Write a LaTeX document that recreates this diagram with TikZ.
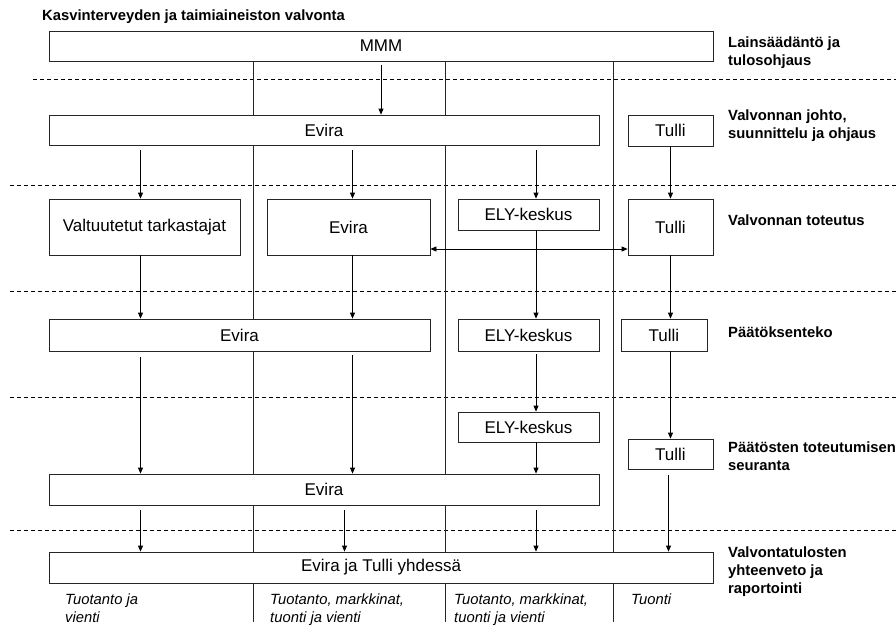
\documentclass[tikz,border=0pt]{standalone}
\usepackage{fontspec}
\setmainfont{Liberation Sans}
\usetikzlibrary{arrows.meta}
\begin{document}
\begin{tikzpicture}[x=1pt,y=-1pt,
  box/.style={draw=black!85, line width=0.8pt, fill=white, inner sep=0pt, font=\fontsize{17}{20}\selectfont},
  arr/.style={-{Triangle[length=6pt,width=5pt]}, line width=0.8pt},
  darr/.style={{Triangle[length=6pt,width=5pt]}-{Triangle[length=6pt,width=5pt]}, line width=0.8pt},
  lane/.style={line width=0.8pt, black!85},
  sep/.style={dash pattern=on 4pt off 3pt, line width=0.7pt},
  lvl/.style={anchor=north west, inner sep=0pt, align=left, font=\bfseries\fontsize{14.8}{18}\selectfont},
  note/.style={anchor=north west, inner sep=0pt, align=left, font=\itshape\fontsize{14.8}{18}\selectfont}]
\useasboundingbox (0,0) rectangle (896,626);

% title
\node[anchor=north west, inner sep=0pt, font=\bfseries\fontsize{14.8}{18}\selectfont] (title) at (42,10) {Kasvinterveyden ja taimiaineiston valvonta};

% dashed level separators
\coordinate (s1a) at (33,79);  \coordinate (s1b) at (896,79);
\coordinate (s2a) at (10,185); \coordinate (s2b) at (896,185);
\coordinate (s3a) at (10,291); \coordinate (s3b) at (896,291);
\coordinate (s4a) at (10,397); \coordinate (s4b) at (896,397);
\coordinate (s5a) at (10,530); \coordinate (s5b) at (896,530);
\foreach \s in {1,...,5} \draw[sep] (s\s a) -- (s\s b);

% lane lines
\coordinate (l1t) at (253,61); \coordinate (l1b) at (253,622);
\coordinate (l2t) at (445,61); \coordinate (l2b) at (445,622);
\coordinate (l3t) at (613,61); \coordinate (l3b) at (613,622);
\foreach \l in {1,2,3} \draw[lane] (l\l t) -- (l\l b);

% boxes
\node[box, minimum width=664pt, minimum height=30pt] (mmm) at (381,46) {MMM};

\node[box, minimum width=550pt, minimum height=30pt] (evira1) at (324,130) {Evira};
\node[box, minimum width=85pt, minimum height=31pt] (tulli1) at (670.5,130.5) {Tulli};

\node[box, minimum width=191pt, minimum height=56pt] (valt) at (144.5,227) {Valtuutetut tarkastajat};
\node[box, minimum width=163pt, minimum height=56pt] (evira2) at (348.5,227) {Evira};
\node[box, minimum width=141pt, minimum height=31pt] (ely1) at (528.5,214.5) {ELY-keskus};
\node[box, minimum width=85pt, minimum height=56pt] (tulli2) at (670.5,227) {Tulli};

\node[box, minimum width=381pt, minimum height=32pt] (evira3) at (239.5,335) {Evira};
\node[box, minimum width=141pt, minimum height=32pt] (ely2) at (528.5,335) {ELY-keskus};
\node[box, minimum width=86pt, minimum height=32pt] (tulli3) at (664,335) {Tulli};

\node[box, minimum width=141pt, minimum height=30pt] (ely3) at (528.5,427) {ELY-keskus};
\node[box, minimum width=85pt, minimum height=30pt] (tulli4) at (670.5,454) {Tulli};

\node[box, minimum width=550pt, minimum height=31pt] (evira4) at (324,489.5) {Evira};

\node[box, minimum width=664pt, minimum height=31pt] (final) at (381,567.5) {Evira ja Tulli yhdessä};

% arrows
\draw[arr, shorten <=4pt] (mmm.south) -- (mmm.south |- evira1.north);

\draw[arr, shorten <=5pt] ([xshift=-4pt]valt.north |- evira1.south) -- ([xshift=-4pt]valt.north);
\draw[arr, shorten <=5pt] ([xshift=4pt]evira2.north |- evira1.south) -- ([xshift=4pt]evira2.north);
\draw[arr, shorten <=5pt] ([xshift=7.5pt]ely1.north |- evira1.south) -- ([xshift=7.5pt]ely1.north);
\draw[arr] (tulli1.south) -- (tulli2.north);

\draw[darr] ([yshift=-22pt]evira2.east) -- ([yshift=-22pt]tulli2.west);

\draw[arr] ([xshift=-4pt]valt.south) -- ([xshift=-4pt]valt.south |- evira3.north);
\draw[arr] ([xshift=4pt]evira2.south) -- ([xshift=4pt]evira2.south |- evira3.north);
\draw[arr] ([xshift=7.5pt]ely1.south) -- ([xshift=7.5pt]ely1.south |- ely2.north);
\draw[arr] (tulli2.south) -- (tulli2.south |- tulli3.north);

\draw[arr, shorten <=3pt] ([xshift=7.5pt]ely2.south) -- ([xshift=7.5pt]ely2.south |- ely3.north);
\draw[arr] (tulli4.north |- tulli3.south) -- (tulli4.north);

\draw[arr, shorten <=6pt] ([xshift=-4pt]valt.south |- evira3.south) -- ([xshift=-4pt]valt.south |- evira4.north);
\draw[arr, shorten <=4pt] ([xshift=4pt]evira2.south |- evira3.south) -- ([xshift=4pt]evira2.south |- evira4.north);
\draw[arr] ([xshift=7.5pt]ely3.south) -- ([xshift=7.5pt]ely3.south |- evira4.north);

\draw[arr, shorten <=5pt] ([xshift=-4pt]valt.south |- evira4.south) -- ([xshift=-4pt]valt.south |- final.north);
\draw[arr, shorten <=5pt] ([xshift=-4pt]evira2.south |- evira4.south) -- ([xshift=-4pt]evira2.south |- final.north);
\draw[arr, shorten <=5pt] ([xshift=7.5pt]ely3.south |- evira4.south) -- ([xshift=7.5pt]ely3.south |- final.north);
\draw[arr, shorten <=6pt] ([xshift=-2pt]tulli4.south) -- ([xshift=-2pt]tulli4.south |- final.north);

% level labels
\node[lvl] (lab1) at (728,37) {Lainsäädäntö ja\\tulosohjaus};
\node[lvl] (lab2) at (728,110) {Valvonnan johto,\\suunnittelu ja ohjaus};
\node[lvl] (lab3) at (728,215) {Valvonnan toteutus};
\node[lvl] (lab4) at (728,327) {Päätöksenteko};
\node[lvl] (lab5) at (728,442) {Päätösten toteutumisen\\seuranta};
\node[lvl] (lab6) at (728,547) {Valvontatulosten\\yhteenveto ja\\raportointi};

% lane notes
\node[note] (n1) at (65,594) {Tuotanto ja\\vienti};
\node[note] (n2) at (270,594) {Tuotanto, markkinat,\\tuonti ja vienti};
\node[note] (n3) at (454,594) {Tuotanto, markkinat,\\tuonti ja vienti};
\node[note] (n4) at (631,594) {Tuonti};
\end{tikzpicture}
\end{document}
